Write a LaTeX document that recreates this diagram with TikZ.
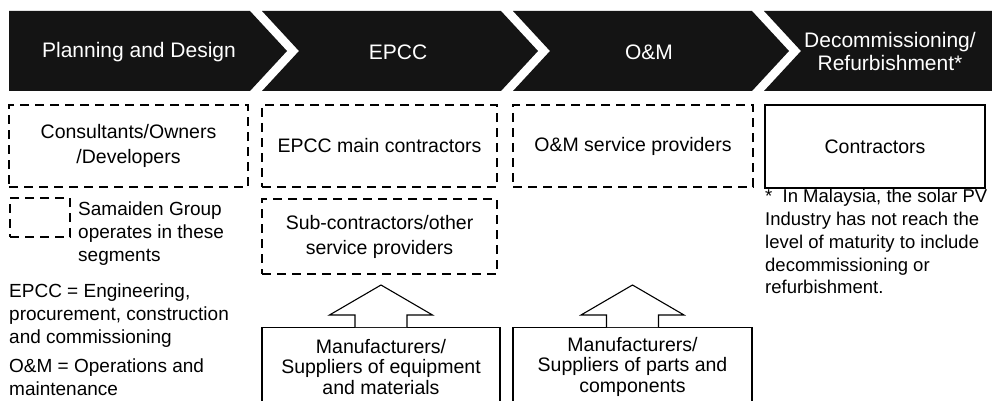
\documentclass[tikz,border=0pt]{standalone}
\usepackage{fontspec}
\setmainfont{Liberation Sans}
\usetikzlibrary{positioning,calc}

\tikzset{
  band/.style={fill=black!92, draw=none},
  phase/.style={text=white, align=center, font=\fontsize{21}{23}\selectfont},
  segbox/.style={draw, dash pattern=on 9pt off 6pt, line width=1.5pt, align=center, font=\fontsize{19.5}{25}\selectfont},
  solidbox/.style={draw, line width=1.5pt, align=center, font=\fontsize{19.5}{25}\selectfont},
  supbox/.style={draw, line width=1.1pt, align=center, anchor=north, minimum height=78pt, font=\fontsize{19.5}{20.5}\selectfont},
  blockarrow/.style={draw, fill=white, line width=1.1pt, line join=miter},
  note/.style={align=left, anchor=north west, inner sep=0pt, font=\fontsize{19}{23}\selectfont}
}

\begin{document}
\begin{tikzpicture}[x=1pt,y=-1pt]
    \clip (0,0) rectangle (992,401);
    \fill[white] (0,0) rectangle (992,401);

    % Value chain band
    \fill[band] (9,11) -- (250,11) -- (287,51) -- (250,91) -- (9,91) -- cycle;
    \foreach \xa/\xb in {262/501, 513/752}
        \fill[band] (\xa,11) -- (\xb,11) -- ++(37,40) -- (\xb,91) -- (\xa,91) -- ++(37,-40) -- cycle;
    \fill[band] (764,11) -- (992,11) -- (992,91) -- (764,91) -- (801,51) -- cycle;

    \node[phase] (plan) at (139,52) {Planning and Design};
    \node[phase] (epcc) at (398,52) {EPCC};
    \node[phase] (om) at (649,52) {O\&M};
    \node[phase] (decom) at (890,51) {Decommissioning/\\Refurbishment*};

    % Players in each segment
    \node[segbox, minimum width=239pt, minimum height=82pt] (consult) at (128.5,146) {Consultants/Owners\\/Developers};
    \node[segbox, minimum width=235pt, minimum height=82pt] (epccmain) at (379.5,146) {EPCC main contractors};
    \node[segbox, minimum width=240pt, minimum height=82pt] (omsvc) at (633,146) {O\&M service providers};
    \node[solidbox, minimum width=220pt, minimum height=83pt] (contr) at (875,146.5) {Contractors};
    \node[segbox, minimum width=235pt, minimum height=75pt] (subcon) at (379.5,236.5) {Sub-contractors/other\\service providers};

    % Suppliers
    \node[supbox, minimum width=238pt] (mfrA) at (381,327) {Manufacturers/\\Suppliers of equipment\\and materials};
    \node[supbox, minimum width=239pt] (mfrB) at (632.5,327) {Manufacturers/\\Suppliers of parts and\\components};
    \foreach \src in {mfrA,mfrB}
        \draw[blockarrow] ($(\src.north)+(-26,0)$) -- ++(0,-12) -- ++(-25.5,0) -- ++(51.5,-30) -- ++(51.5,30) -- ++(-25.5,0) -- ++(0,12);

    % Legend and notes
    \node[segbox, minimum width=60pt, minimum height=39pt] (key) at (40,217.5) {};
    \node[note] (keytext) at (78,202) {Samaiden Group\\operates in these\\segments};
    \node[note] (epccdef) at (9,284) {EPCC = Engineering,\\procurement, construction\\and commissioning};
    \node[note] (omdef) at (9,359) {O\&M = Operations and\\maintenance};
    \node[note, font=\fontsize{18.5}{22.8}\selectfont] (footnote) at (765,189) {*\ \ In Malaysia, the solar PV\\Industry has not reach the\\level of maturity to include\\decommissioning or\\refurbishment.};
\end{tikzpicture}
\end{document}
